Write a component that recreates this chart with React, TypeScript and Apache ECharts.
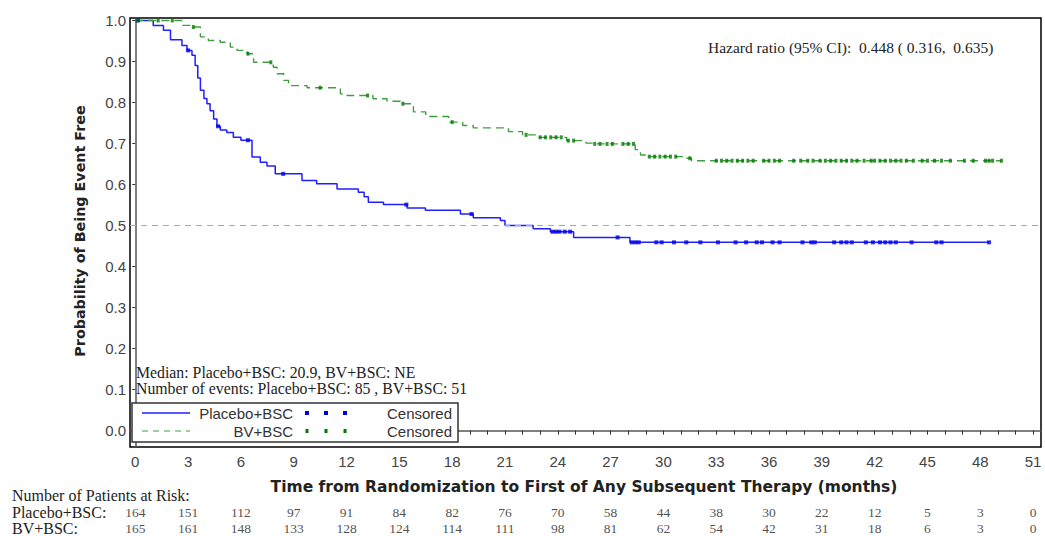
import React, { useEffect, useRef } from "react";
import * as echarts from "echarts";

// ---------- data ----------
const xTickLabels = [0, 3, 6, 9, 12, 15, 18, 21, 24, 27, 30, 33, 36, 39, 42, 45, 48, 51];
const xMinorTicks = [0,1,2,3,4,5,6,7,8,9,10,11,12,13,14,15,16,17,18,19,20,21,22,23,24,25,26,27,28,29,30,31,32,33,34,35,36,37,38,39,40,41,42,43,44,45,46,47,48,49,50,51];
const yTickLabels = [0, 0.1, 0.2, 0.3, 0.4, 0.5, 0.6, 0.7, 0.8, 0.9, 1.0];

const placeboAtRisk = [164, 151, 112, 97, 91, 84, 82, 76, 70, 58, 44, 38, 30, 22, 12, 5, 3, 0];
const bvAtRisk = [165, 161, 148, 133, 128, 124, 114, 111, 98, 81, 62, 54, 42, 31, 18, 6, 3, 0];

// Kaplan-Meier steps [month, survival]
const placeboSteps = [
  [0, 1.0], [1.02, 0.988], [1.6, 0.976], [2.0, 0.953], [2.65, 0.939], [2.94, 0.927], [3.22, 0.915],
  [3.4, 0.89], [3.55, 0.86], [3.7, 0.83], [3.9, 0.81], [4.07, 0.797], [4.25, 0.78], [4.45, 0.76],
  [4.64, 0.742], [4.83, 0.733], [5.2, 0.727], [5.57, 0.715], [6.0, 0.708], [6.63, 0.667], [7.1, 0.654],
  [7.48, 0.645], [7.95, 0.626], [9.47, 0.61], [10.3, 0.602], [11.46, 0.589], [12.67, 0.581], [13.0, 0.57],
  [13.24, 0.557], [14.1, 0.551], [15.44, 0.543], [16.48, 0.537], [18.47, 0.528], [19.2, 0.519],
  [20.74, 0.512], [21.0, 0.5], [22.6, 0.492], [23.58, 0.485], [24.9, 0.471], [28.1, 0.459], [48.5, 0.459],
];
const placeboCensored = [
  [0.15, 1.0], [3.0, 0.927], [4.7, 0.742], [6.4, 0.708], [8.4, 0.626], [15.4, 0.551], [19.1, 0.528],
  [23.7, 0.485], [23.9, 0.485], [24.1, 0.485], [24.4, 0.485], [24.7, 0.485], [27.4, 0.471],
  [28.2, 0.459], [28.4, 0.459], [28.6, 0.459], [29.6, 0.459], [29.9, 0.459], [30.6, 0.459], [31.3, 0.459],
  [32.1, 0.459], [33.1, 0.459], [34.1, 0.459], [34.7, 0.459], [35.3, 0.459], [35.6, 0.459], [36.2, 0.459],
  [36.6, 0.459], [37.9, 0.459], [38.4, 0.459], [38.6, 0.459], [39.7, 0.459], [40.1, 0.459], [40.4, 0.459],
  [40.7, 0.459], [41.5, 0.459], [41.9, 0.459], [42.3, 0.459], [42.6, 0.459], [42.9, 0.459], [43.2, 0.459],
  [44.1, 0.459], [45.5, 0.459], [45.8, 0.459], [48.5, 0.459],
];

const bvSteps = [
  [0, 1.0], [2.7, 0.988], [3.2, 0.984], [3.7, 0.96], [4.15, 0.951], [4.83, 0.947], [5.4, 0.935],
  [5.78, 0.927], [6.35, 0.919], [6.72, 0.898], [7.84, 0.886], [8.05, 0.87], [8.43, 0.854], [8.71, 0.841],
  [9.76, 0.836], [11.65, 0.821], [12.03, 0.817], [13.5, 0.809], [14.3, 0.803], [15.06, 0.797],
  [15.8, 0.777], [16.5, 0.766], [17.8, 0.752], [18.6, 0.744], [19.2, 0.738], [21.2, 0.729], [22.0, 0.721],
  [22.8, 0.715], [24.5, 0.707], [25.6, 0.701], [26.0, 0.699], [28.4, 0.685], [28.7, 0.672], [29.1, 0.668],
  [31.3, 0.664], [31.6, 0.658], [49.2, 0.658],
];
const bvCensored = [
  [0.1, 1.0], [1.3, 1.0], [2.1, 1.0], [3.3, 0.984], [6.4, 0.919], [7.7, 0.898], [10.5, 0.836],
  [13.2, 0.817], [15.2, 0.797], [18.0, 0.752], [22.2, 0.721], [23.0, 0.715], [23.3, 0.715], [23.6, 0.715],
  [23.9, 0.715], [24.2, 0.715], [24.6, 0.707], [24.9, 0.707], [26.1, 0.699], [26.4, 0.699], [26.8, 0.699],
  [27.1, 0.699], [27.7, 0.699], [28.0, 0.699], [28.3, 0.699], [29.2, 0.668], [29.5, 0.668], [29.8, 0.668],
  [30.1, 0.668], [30.4, 0.668], [30.7, 0.668], [31.5, 0.664], [33.0, 0.658], [33.3, 0.658], [33.6, 0.658],
  [33.9, 0.658], [34.2, 0.658], [34.5, 0.658], [34.8, 0.658], [35.1, 0.658], [35.7, 0.658], [36.0, 0.658],
  [36.3, 0.658], [36.6, 0.658], [37.4, 0.658], [37.8, 0.658], [38.2, 0.658], [38.5, 0.658], [38.9, 0.658],
  [39.2, 0.658], [39.5, 0.658], [39.8, 0.658], [40.1, 0.658], [40.4, 0.658], [40.7, 0.658], [41.0, 0.658],
  [41.4, 0.658], [41.8, 0.658], [42.0, 0.658], [42.3, 0.658], [42.6, 0.658], [42.9, 0.658], [43.2, 0.658],
  [43.5, 0.658], [43.8, 0.658], [44.2, 0.658], [44.7, 0.658], [45.0, 0.658], [45.4, 0.658], [45.8, 0.658],
  [46.3, 0.658], [47.1, 0.658], [47.6, 0.658], [48.3, 0.658], [48.5, 0.658], [48.7, 0.658], [49.2, 0.658],
];

const hazardText = "Hazard ratio (95% CI):  0.448 ( 0.316,  0.635)";
const medianText = "Median: Placebo+BSC: 20.9, BV+BSC: NE";
const eventsText = "Number of events: Placebo+BSC: 85 , BV+BSC: 51";
const xTitle = "Time from Randomization to First of Any Subsequent Therapy (months)";
const yTitle = "Probability of Being Event Free";

// ---------- styles ----------
const BLUE = "#1f1fff";
const BLUE_MARK = "#0000e6";
const GREEN = "#3f9f3f";
const GREEN_MARK = "#007a00";
const SANS = "'Liberation Sans', Arial, sans-serif";
const SERIF = "'Liberation Serif', 'Times New Roman', serif";
const BOLD = "'DejaVu Sans', Verdana, sans-serif";
const Y_MIN = -0.04;

export default function App() {
  const ref = useRef<HTMLDivElement>(null);

  useEffect(() => {
    if (!ref.current) return;
    const chart = echarts.init(ref.current, null, { renderer: "svg" });

    const atRiskSeries = (vals: number[], offsetY: number) => ({
      type: "scatter",
      silent: true,
      clip: false,
      symbol: "circle",
      symbolSize: 1,
      itemStyle: { color: "rgba(0,0,0,0)" },
      data: vals.map((v, i) => [xTickLabels[i], Y_MIN, v]),
      label: {
        show: true,
        position: "inside",
        offset: [0, offsetY],
        formatter: (p: any) => String(p.value[2]),
        fontFamily: SERIF,
        fontSize: 13.5,
        color: "#222",
      },
      z: 1,
    });

    const textStyle = (extra: any) => ({ fill: "#222", ...extra });

    chart.setOption({
      animation: false,
      backgroundColor: "#fff",
      grid: {
        left: 130,
        right: 4,
        top: 18,
        bottom: 89,
        show: true,
        borderColor: "#000",
        borderWidth: 1.5,
        backgroundColor: "transparent",
      },
      xAxis: {
        type: "value",
        min: -0.3,
        max: 51.45,
        splitLine: { show: false },
        axisLine: { show: true, lineStyle: { color: "#555", width: 1.5 } },
        axisTick: { show: true, customValues: xMinorTicks, length: 4, lineStyle: { color: "#333" } },
        axisLabel: {
          customValues: xTickLabels,
          fontFamily: SANS,
          fontSize: 15,
          color: "#444",
          margin: 7,
        },
      },
      yAxis: {
        type: "value",
        min: Y_MIN,
        max: 1.006,
        splitLine: { show: false },
        axisLine: { show: true, lineStyle: { color: "#555", width: 1.5 } },
        axisTick: { show: true, customValues: yTickLabels, length: 3, lineStyle: { color: "#333" } },
        axisLabel: {
          customValues: yTickLabels,
          formatter: (v: number) => v.toFixed(1),
          fontFamily: SANS,
          fontSize: 15,
          color: "#444",
          margin: 4,
        },
      },
      series: [
        {
          name: "Placebo+BSC",
          type: "line",
          step: "end",
          showSymbol: false,
          symbol: "none",
          data: placeboSteps,
          lineStyle: { color: BLUE, width: 1.5 },
          z: 3,
          markLine: {
            silent: true,
            symbol: ["none", "none"],
            label: { show: false },
            lineStyle: { color: "#aaa", type: [6, 5], width: 1 },
            data: [{ yAxis: 0.5 }],
          },
        },
        {
          name: "BV+BSC",
          type: "line",
          step: "end",
          showSymbol: false,
          symbol: "none",
          data: bvSteps,
          lineStyle: { color: GREEN, width: 1.4, type: [8, 5] },
          z: 3,
        },
        {
          name: "Placebo censored",
          type: "scatter",
          symbol: "rect",
          symbolSize: [4, 4],
          itemStyle: { color: BLUE_MARK },
          data: placeboCensored,
          z: 4,
        },
        {
          name: "BV censored",
          type: "scatter",
          symbol: "rect",
          symbolSize: [3, 4],
          itemStyle: { color: GREEN_MARK },
          data: bvCensored,
          z: 4,
        },
        atRiskSeries(placeboAtRisk, 65),
        atRiskSeries(bvAtRisk, 81.5),
      ],
      graphic: [
        {
          type: "text",
          x: 80,
          y: 231,
          rotation: Math.PI / 2,
          style: textStyle({
            text: yTitle,
            font: `bold 14.3px ${BOLD}`,
            align: "center",
            verticalAlign: "middle",
            fill: "#222",
          }),
        },
        {
          type: "text",
          x: 584,
          y: 487,
          style: textStyle({
            text: xTitle,
            font: `bold 15.5px ${BOLD}`,
            align: "center",
            verticalAlign: "middle",
          }),
        },
        {
          type: "text",
          x: 708,
          y: 47,
          style: textStyle({ text: hazardText, font: `15.5px ${SERIF}`, verticalAlign: "middle" }),
        },
        {
          type: "text",
          x: 136,
          y: 372,
          style: textStyle({ text: medianText, font: `15.8px ${SERIF}`, verticalAlign: "middle" }),
        },
        {
          type: "text",
          x: 136,
          y: 388,
          style: textStyle({ text: eventsText, font: `15.8px ${SERIF}`, verticalAlign: "middle" }),
        },
        // legend box
        {
          type: "rect",
          shape: { x: 132, y: 403, width: 326, height: 39 },
          style: { fill: "#fff", stroke: "#333", lineWidth: 1.5 },
          z: 10,
        },
        {
          type: "line",
          shape: { x1: 142, y1: 413, x2: 190, y2: 413 },
          style: { stroke: BLUE, lineWidth: 1.5 },
          z: 11,
        },
        {
          type: "line",
          shape: { x1: 142, y1: 431, x2: 190, y2: 431 },
          style: { stroke: GREEN, lineWidth: 1.2, lineDash: [6, 5] },
          z: 11,
        },
        {
          type: "text",
          x: 293,
          y: 413,
          z: 11,
          style: textStyle({ text: "Placebo+BSC", font: `15px ${SANS}`, align: "right", verticalAlign: "middle", fill: "#333" }),
        },
        {
          type: "text",
          x: 293,
          y: 431,
          z: 11,
          style: textStyle({ text: "BV+BSC", font: `15px ${SANS}`, align: "right", verticalAlign: "middle", fill: "#333" }),
        },
        ...[307, 326, 345].map((x) => ({
          type: "rect",
          z: 11,
          shape: { x: x - 2, y: 411, width: 4, height: 4 },
          style: { fill: BLUE_MARK },
        })),
        ...[307, 326, 345].map((x) => ({
          type: "rect",
          z: 11,
          shape: { x: x - 1.5, y: 429, width: 3, height: 4 },
          style: { fill: GREEN_MARK },
        })),
        {
          type: "text",
          x: 452,
          y: 413,
          z: 11,
          style: textStyle({ text: "Censored", font: `15px ${SANS}`, align: "right", verticalAlign: "middle", fill: "#333" }),
        },
        {
          type: "text",
          x: 452,
          y: 431,
          z: 11,
          style: textStyle({ text: "Censored", font: `15px ${SANS}`, align: "right", verticalAlign: "middle", fill: "#333" }),
        },
        // at-risk table row labels
        {
          type: "text",
          x: 12,
          y: 495,
          style: textStyle({ text: "Number of Patients at Risk:", font: `16px ${SERIF}`, verticalAlign: "middle" }),
        },
        {
          type: "text",
          x: 12,
          y: 512,
          style: textStyle({ text: "Placebo+BSC:", font: `16px ${SERIF}`, verticalAlign: "middle" }),
        },
        {
          type: "text",
          x: 12,
          y: 528.5,
          style: textStyle({ text: "BV+BSC:", font: `16px ${SERIF}`, verticalAlign: "middle" }),
        },
      ],
    });

    return () => chart.dispose();
  }, []);

  return <div ref={ref} style={{ width: 1045, height: 536, position: "absolute", left: 0, top: 0 }} />;
}
